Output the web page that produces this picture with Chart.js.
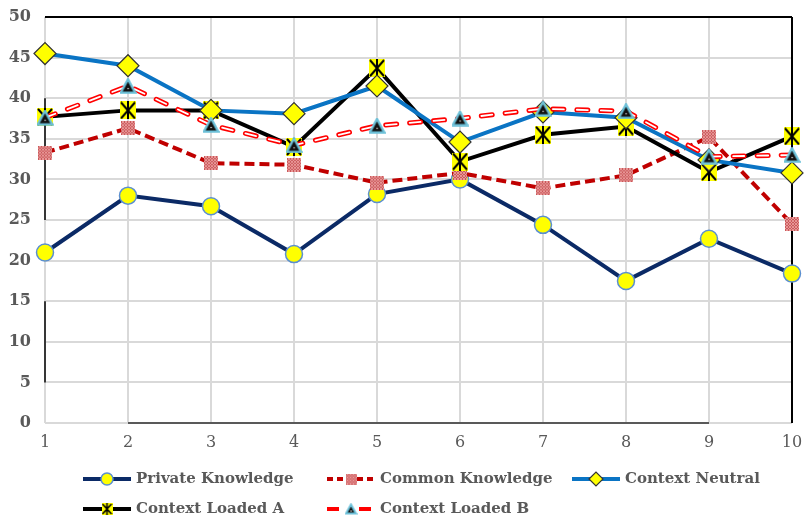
<!DOCTYPE html>
<html>
<head>
<meta charset="utf-8">
<script src="https://cdn.jsdelivr.net/npm/chart.js@4.4.1/dist/chart.umd.min.js"></script>
<style>
  html, body { margin: 0; padding: 0; background: #ffffff; }
  #wrap { width: 805px; height: 522px; }
</style>
</head>
<body>
<div id="wrap"><canvas id="c" width="805" height="522"></canvas></div>
<script>
// Rounds 1..10 on the x axis
const categories = ['1', '2', '3', '4', '5', '6', '7', '8', '9', '10'];

// Series values
const privateKnowledge = [21.0, 28.0, 26.7, 20.8, 28.2, 30.0, 24.4, 17.5, 22.7, 18.4];
const commonKnowledge  = [33.3, 36.3, 32.0, 31.8, 29.6, 30.8, 28.9, 30.5, 35.2, 24.5];
const contextNeutral   = [45.5, 44.0, 38.5, 38.1, 41.5, 34.6, 38.3, 37.6, 32.4, 30.8];
const contextLoadedA   = [37.7, 38.5, 38.5, 34.0, 43.7, 32.2, 35.5, 36.5, 30.9, 35.3];
const contextLoadedB   = [37.6, 41.5, 36.7, 34.2, 36.6, 37.5, 38.7, 38.4, 32.8, 33.0];

// Y axis range
const yMin = 0, yMax = 50, yStep = 5;

const FONT = "'DejaVu Serif', 'Liberation Serif', serif";
const TEXT = '#595959';

function makeMarker(w, h, draw) {
  const c = document.createElement('canvas');
  c.width = w; c.height = h;
  draw(c.getContext('2d'), w, h);
  return c;
}

// patterned red square
function squareMarker(s) {
  return makeMarker(s, s, (g, w, h) => {
    g.fillStyle = '#c9585a';
    g.fillRect(0, 0, w, h);
    g.strokeStyle = 'rgba(240,170,170,0.75)';
    g.lineWidth = 1;
    for (let i = -h; i < w + h; i += 3) {
      g.beginPath(); g.moveTo(i, 0); g.lineTo(i + h, h); g.stroke();
      g.beginPath(); g.moveTo(i + h, 0); g.lineTo(i, h); g.stroke();
    }
  });
}

// yellow block with a black star
function starMarker(w, h, lw) {
  return makeMarker(w, h, (g) => {
    g.fillStyle = '#ffff00';
    g.fillRect(0, 0, w, h);
    g.strokeStyle = '#000000';
    g.lineWidth = lw;
    g.beginPath();
    g.moveTo(1, 1); g.lineTo(w - 1, h - 1);
    g.moveTo(w - 1, 1); g.lineTo(1, h - 1);
    g.moveTo(w / 2, 0); g.lineTo(w / 2, h);
    g.stroke();
  });
}

// dark triangle with a light blue edge
function triMarker(w, h) {
  return makeMarker(w, h, (g) => {
    g.beginPath();
    g.moveTo(w / 2, 1.5);
    g.lineTo(w - 1.5, h - 1.5);
    g.lineTo(1.5, h - 1.5);
    g.closePath();
    g.fillStyle = '#111111';
    g.fill();
    g.strokeStyle = '#6cc0d8';
    g.lineWidth = 2;
    g.stroke();
    g.fillStyle = '#ffffff';
    g.fillRect(w / 2 - 0.5, h * 0.62, 1.2, 1.2);
  });
}

const markers = {
  common: squareMarker(14),
  commonLegend: squareMarker(11),
  starA: starMarker(16, 18, 2),
  starALegend: starMarker(11, 12, 1.6),
  triB: triMarker(17, 16),
  triBLegend: triMarker(13, 12)
};

const datasets = [
  {
    label: 'Private Knowledge',
    data: privateKnowledge,
    borderColor: '#0b2a66',
    borderWidth: 4,
    pointStyle: 'circle',
    pointRadius: 8.5,
    pointBackgroundColor: '#ffff00',
    pointBorderColor: '#5b8fd0',
    pointBorderWidth: 1.5,
    order: 5,
    legendMarker: { style: 'circle', radius: 6 }
  },
  {
    label: 'Common Knowledge',
    data: commonKnowledge,
    borderColor: '#c00000',
    borderWidth: 4,
    borderDash: [10, 5],
    pointStyle: markers.common,
    pointRadius: 7,
    order: 4,
    legendMarker: { image: markers.commonLegend }
  },
  {
    label: 'Context Neutral',
    data: contextNeutral,
    borderColor: '#0a74c4',
    borderWidth: 4,
    pointStyle: 'rectRot',
    pointRadius: 11,
    pointBackgroundColor: '#ffff00',
    pointBorderColor: '#333333',
    pointBorderWidth: 1.2,
    order: 2,
    legendMarker: { style: 'rectRot', radius: 7 }
  },
  {
    label: 'Context Loaded A',
    data: contextLoadedA,
    borderColor: '#000000',
    borderWidth: 4,
    pointStyle: markers.starA,
    pointRadius: 8,
    order: 3,
    legendMarker: { image: markers.starALegend }
  },
  {
    label: 'Context Loaded B',
    data: contextLoadedB,
    borderColor: '#ff0000',
    borderWidth: 5,
    borderDash: [11, 13],
    borderCapStyle: 'round',
    pointStyle: markers.triB,
    pointRadius: 8,
    order: 1,
    hollowDash: true,
    legendMarker: { image: markers.triBLegend }
  }
];

datasets.forEach(d => {
  d.fill = false;
  d.tension = 0;
  d.pointHoverRadius = d.pointRadius;
});

// Outline of the plot area: black top and right, partial left, grey base
const framePlugin = {
  id: 'frame',
  beforeDatasetsDraw(chart) {
    const { ctx, chartArea: a, scales: { x, y } } = chart;
    ctx.save();
    ctx.lineCap = 'butt';
    ctx.strokeStyle = '#000000';
    ctx.lineWidth = 2;
    ctx.beginPath();
    ctx.moveTo(a.left, a.top); ctx.lineTo(a.right, a.top);
    ctx.moveTo(a.right, a.top); ctx.lineTo(a.right, a.bottom);
    ctx.stroke();
    ctx.lineWidth = 1.5;
    ctx.beginPath();
    ctx.moveTo(a.left, y.getPixelForValue(40)); ctx.lineTo(a.left, y.getPixelForValue(25));
    ctx.moveTo(a.left, y.getPixelForValue(15)); ctx.lineTo(a.left, y.getPixelForValue(5));
    ctx.stroke();
    ctx.strokeStyle = '#595959';
    ctx.lineWidth = 2;
    ctx.beginPath();
    ctx.moveTo(x.getPixelForValue(1), a.bottom); ctx.lineTo(x.getPixelForValue(8), a.bottom);
    ctx.stroke();
    ctx.restore();
  }
};

// White core inside the red dashes, then points redrawn on top
const hollowDashPlugin = {
  id: 'hollowDash',
  afterDatasetDraw(chart, args) {
    const ds = chart.data.datasets[args.index];
    if (!ds.hollowDash) return;
    const meta = args.meta;
    const pts = meta.data;
    const ctx = chart.ctx;
    ctx.save();
    ctx.strokeStyle = '#ffffff';
    ctx.lineWidth = 1.8;
    ctx.lineCap = 'round';
    ctx.lineJoin = 'miter';
    ctx.setLineDash(ds.borderDash);
    ctx.lineDashOffset = 0;
    ctx.beginPath();
    pts.forEach((p, i) => { if (i === 0) ctx.moveTo(p.x, p.y); else ctx.lineTo(p.x, p.y); });
    ctx.stroke();
    ctx.restore();
    pts.forEach(p => p.draw(ctx, chart.chartArea));
  }
};

// Two-row legend under the plot
const legendPlugin = {
  id: 'gridLegend',
  afterDraw(chart) {
    const ctx = chart.ctx;
    const cols = [83, 327, 572];
    const rows = [479, 509];
    const slots = [[0, 0], [1, 0], [2, 0], [0, 1], [1, 1]];
    chart.data.datasets.forEach((ds, i) => {
      const [c, r] = slots[i];
      const x0 = cols[c], yy = rows[r];
      ctx.save();
      ctx.strokeStyle = ds.borderColor;
      ctx.lineWidth = ds.hollowDash ? 4 : ds.borderWidth;
      ctx.lineCap = 'butt';
      ctx.setLineDash(ds.borderDash ? (ds.hollowDash ? [12, 20] : [6, 4]) : []);
      ctx.beginPath();
      ctx.moveTo(x0, yy); ctx.lineTo(x0 + 48, yy);
      ctx.stroke();
      ctx.setLineDash([]);
      const m = ds.legendMarker;
      const cx = x0 + 24;
      if (m.image) {
        ctx.drawImage(m.image, cx - m.image.width / 2, yy - m.image.height / 2);
      } else {
        ctx.fillStyle = ds.pointBackgroundColor;
        ctx.strokeStyle = ds.pointBorderColor;
        ctx.lineWidth = ds.pointBorderWidth;
        Chart.helpers.drawPoint(ctx, { pointStyle: m.style, radius: m.radius, borderWidth: ds.pointBorderWidth, rotation: 0 }, cx, yy);
      }
      ctx.fillStyle = TEXT;
      ctx.font = 'bold 15px ' + FONT;
      ctx.textAlign = 'left';
      ctx.textBaseline = 'middle';
      ctx.fillText(ds.label, x0 + 53, yy);
      ctx.restore();
    });
  }
};

new Chart(document.getElementById('c'), {
  type: 'line',
  data: { labels: categories, datasets },
  options: {
    responsive: false,
    devicePixelRatio: 1,
    animation: false,
    events: [],
    layout: { padding: { top: 17, right: 10, left: 0, bottom: 0 } },
    plugins: {
      legend: { display: false },
      tooltip: { enabled: false },
      title: { display: false }
    },
    scales: {
      x: {
        type: 'category',
        offset: false,
        grid: { color: '#d9d9d9', lineWidth: 2, drawTicks: false },
        border: { display: false },
        ticks: {
          color: TEXT,
          font: { family: FONT, size: 16, weight: 'normal' },
          padding: 10,
          maxRotation: 0,
          autoSkip: false
        },
        afterFit(s) {
          s.height = 99;
          s.paddingLeft = 0;
          s.paddingRight = 0;
        }
      },
      y: {
        min: yMin,
        max: yMax,
        grid: { color: '#d9d9d9', lineWidth: 2, drawTicks: false },
        border: { display: false },
        ticks: {
          stepSize: yStep,
          color: TEXT,
          font: { family: FONT, size: 16, weight: 'bold' },
          padding: 14
        },
        afterFit(s) {
          s.width = 45;
          s.paddingTop = 0;
          s.paddingBottom = 0;
        }
      }
    }
  },
  plugins: [framePlugin, hollowDashPlugin, legendPlugin]
});
</script>
</body>
</html>
